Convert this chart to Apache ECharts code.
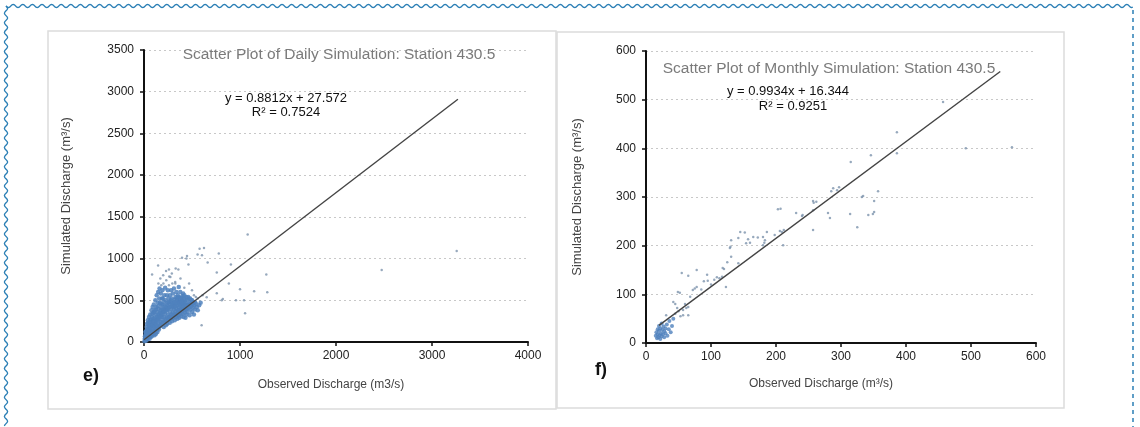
<!DOCTYPE html>
<html>
<head>
<meta charset="utf-8">
<script src="https://cdn.jsdelivr.net/npm/echarts@6/dist/echarts.min.js"></script>
<style>
html,body{margin:0;padding:0;background:#fff;}
#main{width:1140px;height:427px;}
</style>
</head>
<body>
<div id="main"></div>
<script>
// daily scatter: observed vs simulated (m3/s), dense core
var dailyCore = [
  [5,10],[8,40],[12,25],[15,60],[18,90],[20,15],[22,130],[25,50],[28,180],[30,75],[32,220],[35,30],[38,110],[40,260],[42,160],[45,55],[48,200],[50,95],
  [52,300],[55,140],[58,40],[60,240],[62,85],[65,330],[68,180],[70,60],[72,270],[75,120],[78,380],[80,210],[82,70],[85,300],[88,150],[90,420],[92,250],[95,95],[98,350],[100,190],
  [102,450],[105,130],[108,290],[110,80],[112,380],[115,220],[118,500],[120,160],[122,330],[125,100],[128,420],[130,260],[132,560],[135,190],[138,360],[140,120],[142,470],[145,300],[148,600],[150,220],
  [152,400],[155,150],[158,520],[160,280],[162,640],[165,350],[168,190],[170,460],[172,240],[175,580],[178,320],[182,400],[185,210],[188,520],[190,300],[192,620],[195,450],[198,260],[200,360],
  [205,180],[208,480],[210,300],[212,560],[215,400],[218,240],[220,650],[222,340],[225,500],[228,200],[230,420],[235,290],[238,560],[240,380],[242,220],[245,470],[248,620],[250,330],
  [252,260],[255,520],[258,410],[262,300],[265,450],[268,230],[270,560],[272,360],[278,480],[280,280],[282,620],[285,400],[288,330],[290,520],[292,250],[298,430],[300,350],
  [302,580],[305,290],[308,470],[310,390],[312,640],[315,320],[318,510],[320,260],[322,430],[328,370],[330,540],[332,300],[335,460],[338,600],[340,400],[342,330],[345,500],[348,280],[350,440],
  [352,560],[355,380],[358,320],[360,480],[362,660],[365,410],[368,290],[370,520],[372,360],[375,440],[378,600],[380,340],[382,480],[385,400],[388,310],[390,530],[392,450],[395,370],[398,500],[400,420],
  [402,340],[405,480],[408,580],[410,400],[412,300],[415,460],[418,520],[420,380],[422,440],[425,350],[428,500],[430,410],[432,290],[435,470],[438,540],[440,390],[442,330],[445,450],[448,400],[450,500],
  [455,360],[460,440],[465,520],[470,410],[475,320],[480,470],[485,390],[490,430],[495,500],[500,360],[505,450],[510,410],[515,480],[520,330],[525,440],[530,390],[540,460],[550,420],[560,380],[575,440],[590,470],
  [10,70],[14,120],[24,95],[33,150],[44,230],[56,190],[66,260],[76,230],[86,340],[96,280],[106,360],[116,270],[126,390],[136,310],[146,430],[156,330],[166,470],[176,380],[186,440],[196,520],
  [110,120],[130,150],[150,170],[170,200],[190,230],[210,250],[230,270],[250,290],[270,310],[290,300],[310,330],[330,340],[350,350],[370,380],[390,390],[410,420],[430,430],[450,440],[470,450],[490,460],[510,470],[530,480],
  [120,240],[140,270],[160,310],[180,350],[200,390],[220,430],[240,450],[260,480],[280,500],[300,460],[320,480],[340,520],[360,540],[380,520],[400,550],[420,560],[460,540],[480,520],[500,500],
  [60,120],[70,160],[80,130],[90,200],[100,240],[110,180],[130,210],[150,260],[170,300],[190,340],[210,360],[230,380],[250,400],[270,420],[290,440],[310,420],[330,430],[350,470],[370,460],[390,480],
  [20,40],[30,50],[40,80],[50,70],[60,100],[70,110],[35,70],[45,120],[25,100],[15,35]
];
var dailySparse = [
  [180,680],[202,700],[232,740],[260,680],[275,780],[295,700],[325,720],
  [150,700],[170,760],[200,800],[230,850],[260,870],[290,820],[330,880],[380,760],[420,650],[470,700],[500,620],[520,560],[540,540],[560,520],[610,560],
  [1080,1290],[579,1119],[558,1048],[604,1040],[625,1127],[779,1060],[396,1010],[448,1030],[442,1000],[84,810],[147,917],[463,929],[663,952],[905,929],
  [1274,810],[758,833],[884,702],[758,583],[1000,631],[1147,607],[1284,595],[958,500],[1042,500],[810,500],[821,516],[1053,345],[600,202],[653,536],
  [263,786],[358,869],[326,702],[2476,863],[3257,1090]
];
var dailySlope = 0.8812, dailyIntercept = 27.572, dailyFitX = [0, 3270];

// monthly scatter
var monthlyCore = [
  [15,15],[16,22],[17,10],[18,28],[18,18],[19,12],[20,35],[20,25],[21,16],[22,30],[22,8],[23,20],[24,40],[24,14],[25,27],[26,18],[27,34],[28,12],[28,24],[30,30],[30,20],[32,38],[33,15],[35,28],[36,45],[38,22],[40,35],[42,50]
];
var monthlySparse = [
  [31,57],[42,84],[45,80],[49,105],[55,144],[65,138],[78,150],[72,109],[75,112],[78,115],[57,68],[62,72],[65,74],[57,57],[65,57],[52,103],
  [45,60],[50,65],[53,55],[48,72],[60,80],[68,95],[85,110],[100,120],[105,130],
  [94,140],[89,127],[95,128],[109,135],[113,133],[117,136],[123,115],[118,154],[120,152],[125,166],[131,177],[129,195],[130,198],[131,211],
  [142,164],[145,228],[152,227],[142,216],[157,213],[154,205],[160,206],[165,218],[172,217],[180,218],[180,201],[182,206],[183,211],[186,228],
  [198,222],[206,230],[209,228],[212,232],[211,201],[203,275],[207,276],[231,267],[240,261],[241,263],[257,292],[258,288],[262,290],[257,273],[257,232],
  [280,267],[283,257],[285,312],[288,318],[294,314],[297,320],[314,265],[325,238],[334,302],[342,263],[349,265],[351,269],[351,292],[332,300],[357,312],
  [315,372],[346,386],[386,390],[386,433],[457,495],[492,400],[563,402]
];
var monthlySlope = 0.9934, monthlyIntercept = 16.344, monthlyFitX = [20, 545];

var dailyYTicks = [0, 3500, 500];
var dailyXTicks = [0, 4000, 1000];
var monthlyTicks = [0, 600, 100];

function fitLine(slope, icpt, xs){
  return xs.map(function(x){ return [x, slope * x + icpt]; });
}

var FONT = '"Liberation Sans", Arial, sans-serif';

// wavy frame around the figure
function wave(x0, x1, y, horiz){
  var pts = [];
  for (var t = x0; t <= x1; t += 1.2) {
    var off = 1.6 * Math.sin((t - x0) / 9.6 * Math.PI * 2);
    pts.push(horiz ? [t, y + off] : [y + off, t]);
  }
  return pts;
}

function plain(v){ return String(v); }

function yAxisOf(grid, r, name, gap){
  return {
    type: 'value', gridIndex: grid, min: r[0], max: r[1], interval: r[2],
    name: name, nameLocation: 'middle', nameGap: gap,
    nameTextStyle: {color: '#444', fontSize: 13, fontFamily: FONT},
    axisLine: {show: true, lineStyle: {color: '#111', width: 2}},
    axisTick: {show: true, length: 4, lineStyle: {color: '#111', width: 1.5}},
    axisLabel: {color: '#222', fontSize: 12, fontFamily: FONT, margin: 10, formatter: plain},
    splitLine: {show: true, lineStyle: {color: '#c8c8c8', type: [2, 3]}}
  };
}
function xAxisOf(grid, r, name, gap, pad){
  return {
    type: 'value', gridIndex: grid, min: r[0], max: r[1], interval: r[2],
    name: name, nameLocation: 'middle', nameGap: gap,
    nameTextStyle: {color: '#444', fontSize: 12, fontFamily: FONT, padding: pad},
    axisLine: {show: true, onZero: false, lineStyle: {color: '#111', width: 2}},
    axisTick: {show: true, length: 4, lineStyle: {color: '#111', width: 1.5}},
    axisLabel: {color: '#222', fontSize: 12, fontFamily: FONT, margin: 8, formatter: plain},
    splitLine: {show: false}
  };
}

var myChart = echarts.init(document.getElementById('main'));
var option = {
  backgroundColor: '#fff',
  animation: false,
  title: [
    {text: 'Scatter Plot of Daily Simulation: Station 430.5', left: 334, top: 42, textAlign: 'center',
      textStyle: {color: '#7a7a7a', fontSize: 15.5, fontWeight: 'normal', fontFamily: FONT}},
    {text: 'Scatter Plot of Monthly Simulation: Station 430.5', left: 824, top: 56, textAlign: 'center',
      textStyle: {color: '#7a7a7a', fontSize: 15.5, fontWeight: 'normal', fontFamily: FONT}}
  ],
  grid: [
    {left: 144, top: 50, width: 384, height: 292},
    {left: 646, top: 51, width: 390, height: 292}
  ],
  xAxis: [
    xAxisOf(0, dailyXTicks, 'Observed Discharge (m3/s)', 37, [0, 10, 0, 0]),
    xAxisOf(1, monthlyTicks, 'Observed Discharge (m\u00b3/s)', 35, [0, 40, 0, 0])
  ],
  yAxis: [
    yAxisOf(0, dailyYTicks, 'Simulated Discharge (m\u00b3/s)', 71),
    yAxisOf(1, monthlyTicks, 'Simulated Discharge (m\u00b3/s)', 62)
  ],
  graphic: [
    {type: 'rect', shape: {x: 48, y: 31, width: 508, height: 378}, style: {fill: 'none', stroke: '#dcdcdc', lineWidth: 1.5}, z: -1},
    {type: 'rect', shape: {x: 557, y: 32, width: 507, height: 376}, style: {fill: 'none', stroke: '#dcdcdc', lineWidth: 1.5}, z: -1},
    {type: 'polyline', shape: {points: wave(6, 1134, 6, true)}, style: {fill: 'none', stroke: '#2b7fb5', lineWidth: 1.3}},
    {type: 'polyline', shape: {points: wave(6, 427, 6, false)}, style: {fill: 'none', stroke: '#2b7fb5', lineWidth: 1.3}},
    {type: 'line', shape: {x1: 1133, y1: 10, x2: 1133, y2: 427}, style: {stroke: '#2b7fb5', lineWidth: 1.5, lineDash: [4, 4]}},
    {type: 'text', x: 286, y: 98, style: {text: 'y = 0.8812x + 27.572', fill: '#111', font: '13px ' + FONT, align: 'center', verticalAlign: 'middle'}},
    {type: 'text', x: 286, y: 112, style: {text: 'R\u00b2 = 0.7524', fill: '#111', font: '13px ' + FONT, align: 'center', verticalAlign: 'middle'}},
    {type: 'text', x: 788, y: 91, style: {text: 'y = 0.9934x + 16.344', fill: '#111', font: '13px ' + FONT, align: 'center', verticalAlign: 'middle'}},
    {type: 'text', x: 793, y: 106, style: {text: 'R\u00b2 = 0.9251', fill: '#111', font: '13px ' + FONT, align: 'center', verticalAlign: 'middle'}},
    {type: 'text', x: 91, y: 376, style: {text: 'e)', fill: '#111', font: 'bold 18px ' + FONT, align: 'center', verticalAlign: 'middle'}},
    {type: 'text', x: 601, y: 370, style: {text: 'f)', fill: '#111', font: 'bold 18px ' + FONT, align: 'center', verticalAlign: 'middle'}}
  ],
  series: [
    {type: 'scatter', xAxisIndex: 0, yAxisIndex: 0, data: dailyCore, symbolSize: 4.5,
      itemStyle: {color: '#4f81bd', opacity: 0.85}},
    {type: 'scatter', xAxisIndex: 0, yAxisIndex: 0, data: dailySparse, symbolSize: 2.5,
      itemStyle: {color: '#7d93ad'}},
    {type: 'line', xAxisIndex: 0, yAxisIndex: 0, data: fitLine(dailySlope, dailyIntercept, dailyFitX),
      symbol: 'none', lineStyle: {color: '#444', width: 1.4}, z: 3},
    {type: 'scatter', xAxisIndex: 1, yAxisIndex: 1, data: monthlyCore, symbolSize: 4,
      itemStyle: {color: '#4f81bd'}},
    {type: 'scatter', xAxisIndex: 1, yAxisIndex: 1, data: monthlySparse, symbolSize: 2.5,
      itemStyle: {color: '#7d93ad'}},
    {type: 'line', xAxisIndex: 1, yAxisIndex: 1, data: fitLine(monthlySlope, monthlyIntercept, monthlyFitX),
      symbol: 'none', lineStyle: {color: '#444', width: 1.4}, z: 3}
  ]
};
myChart.setOption(option);
</script>
</body>
</html>
